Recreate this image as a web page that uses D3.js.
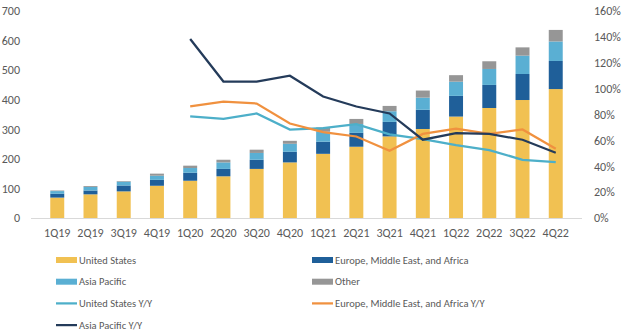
<!DOCTYPE html>
<html>
<head>
<meta charset="utf-8">
<script src="https://cdn.jsdelivr.net/npm/d3@7"></script>
<style>
  body { margin: 0; background: #fff; }
  text { font-family: Calibri, Carlito, "Liberation Sans", Arial, sans-serif; }
</style>
</head>
<body>
<div id="chart"></div>
<script>
const quarters = ['1Q19','2Q19','3Q19','4Q19','1Q20','2Q20','3Q20','4Q20',
  '1Q21','2Q21','3Q21','4Q21','1Q22','2Q22','3Q22','4Q22'];

// stacked revenue by region
const unitedStates = [69, 80, 90, 109, 126, 141, 166, 188, 217, 241, 276, 301, 343, 372, 399, 436];
const emea         = [13, 13, 20, 20, 27, 25, 31, 36, 41, 47, 49, 65, 70, 78, 88, 95];
const asiaPacific  = [9, 12, 13, 14, 16, 22, 23, 27, 34, 30, 36, 41, 48, 54, 62, 66];
const other        = [2, 3, 2, 7, 8, 9, 11, 10, 14, 17, 18, 24, 22, 26, 28, 39];

// year-over-year growth (%), starts at 1Q20
const usYoY   = [null, null, null, null, 78.5, 76.7, 80.8, 68.4, 69.5, 72.5, 64.6, 61, 56.3, 52.5, 45, 43.2];
const emeaYoY = [null, null, null, null, 86.2, 90, 88.5, 73, 66.4, 63, 52, 65, 69, 65, 68.4, 53.5];
const apacYoY = [null, null, null, null, 138.4, 105.5, 105.5, 110, 93.9, 86.2, 80.8, 60.5, 65.6, 65, 60.5, 50.4];

const leftTicks = [0, 100, 200, 300, 400, 500, 600, 700];
const rightTicks = [0, 20, 40, 60, 80, 100, 120, 140, 160];

const width = 623, height = 333;
const margin = { top: 11, bottom: 115, left: 31, right: 41 };

const svg = d3.select('#chart').append('svg')
  .attr('width', width).attr('height', height);

const x = d3.scaleBand()
  .domain(quarters)
  .range([margin.left, width - margin.right])
  .padding(0.58);

const y = d3.scaleLinear()
  .domain([0, 700])
  .range([height - margin.bottom, margin.top]);

const y2 = d3.scaleLinear()
  .domain([0, 160])
  .range([height - margin.bottom, margin.top]);

const colors = {
  us: '#F1C152', emea: '#1F5F99', apac: '#5AAFD3', other: '#969696',
  usYoY: '#4DAFC9', emeaYoY: '#F0913F', apacYoY: '#243B5A'
};

const table = quarters.map((q, i) => ({
  q, us: unitedStates[i], emea: emea[i], apac: asiaPacific[i], other: other[i]
}));
const stack = d3.stack().keys(['us', 'emea', 'apac', 'other'])(table);

// axes
const leftAxis = svg.append('g')
  .attr('transform', `translate(${margin.left - 11},0)`)
  .call(d3.axisLeft(y).tickValues(leftTicks).tickSize(0).tickPadding(0));
const rightAxis = svg.append('g')
  .attr('transform', `translate(${width - margin.right + 12},0)`)
  .call(d3.axisRight(y2).tickValues(rightTicks).tickSize(0).tickPadding(0)
    .tickFormat(d => d + '%'));
const bottomAxis = svg.append('g')
  .attr('transform', `translate(0,${height - margin.bottom})`)
  .call(d3.axisBottom(x).tickSize(0).tickPadding(10).tickSizeOuter(0));

[leftAxis, rightAxis, bottomAxis].forEach(g => {
  g.select('.domain').remove();
  g.selectAll('text').attr('fill', '#595959').attr('font-size', '12px');
});
svg.append('line')
  .attr('x1', margin.left).attr('x2', width - margin.right)
  .attr('y1', y(0) + 0.5).attr('y2', y(0) + 0.5)
  .attr('stroke', '#d9d9d9');

// bars
svg.append('g').selectAll('g')
  .data(stack)
  .join('g')
  .attr('fill', d => colors[d.key])
  .selectAll('rect')
  .data(d => d)
  .join('rect')
  .attr('x', d => x(d.data.q))
  .attr('y', d => y(d[1]))
  .attr('height', d => y(d[0]) - y(d[1]))
  .attr('width', x.bandwidth());

// lines
const line = d3.line()
  .defined(d => d.v != null)
  .x(d => x(d.q) + x.bandwidth() / 2)
  .y(d => y2(d.v));

[['usYoY', usYoY], ['emeaYoY', emeaYoY], ['apacYoY', apacYoY]].forEach(([k, vals]) => {
  svg.append('path')
    .datum(quarters.map((q, i) => ({ q, v: vals[i] })))
    .attr('fill', 'none')
    .attr('stroke', colors[k])
    .attr('stroke-width', 2.25)
    .attr('d', line);
});

// legend
const legendItems = [
  { name: 'United States', key: 'us', type: 'bar' },
  { name: 'Europe, Middle East, and Africa', key: 'emea', type: 'bar' },
  { name: 'Asia Pacific', key: 'apac', type: 'bar' },
  { name: 'Other', key: 'other', type: 'bar' },
  { name: 'United States Y/Y', key: 'usYoY', type: 'line' },
  { name: 'Europe, Middle East, and Africa Y/Y', key: 'emeaYoY', type: 'line' },
  { name: 'Asia Pacific Y/Y', key: 'apacYoY', type: 'line' }
];
const legend = svg.append('g');
legendItems.forEach((d, i) => {
  const col = i % 2, row = Math.floor(i / 2);
  const lx = col === 0 ? 56 : 312;
  const ly = 260 + row * 21.7;
  const g = legend.append('g').attr('transform', `translate(${lx},${ly})`);
  if (d.type === 'bar') {
    g.append('rect').attr('x', 0).attr('y', -3).attr('width', 21).attr('height', 6)
      .attr('fill', colors[d.key]);
  } else {
    g.append('line').attr('x1', 0).attr('x2', 21).attr('y1', 0).attr('y2', 0)
      .attr('stroke', colors[d.key]).attr('stroke-width', 2.25);
  }
  g.append('text').attr('x', 23).attr('y', 0).attr('dy', '0.35em')
    .attr('font-size', '10.5px').attr('fill', '#595959').text(d.name);
});
</script>
</body>
</html>
